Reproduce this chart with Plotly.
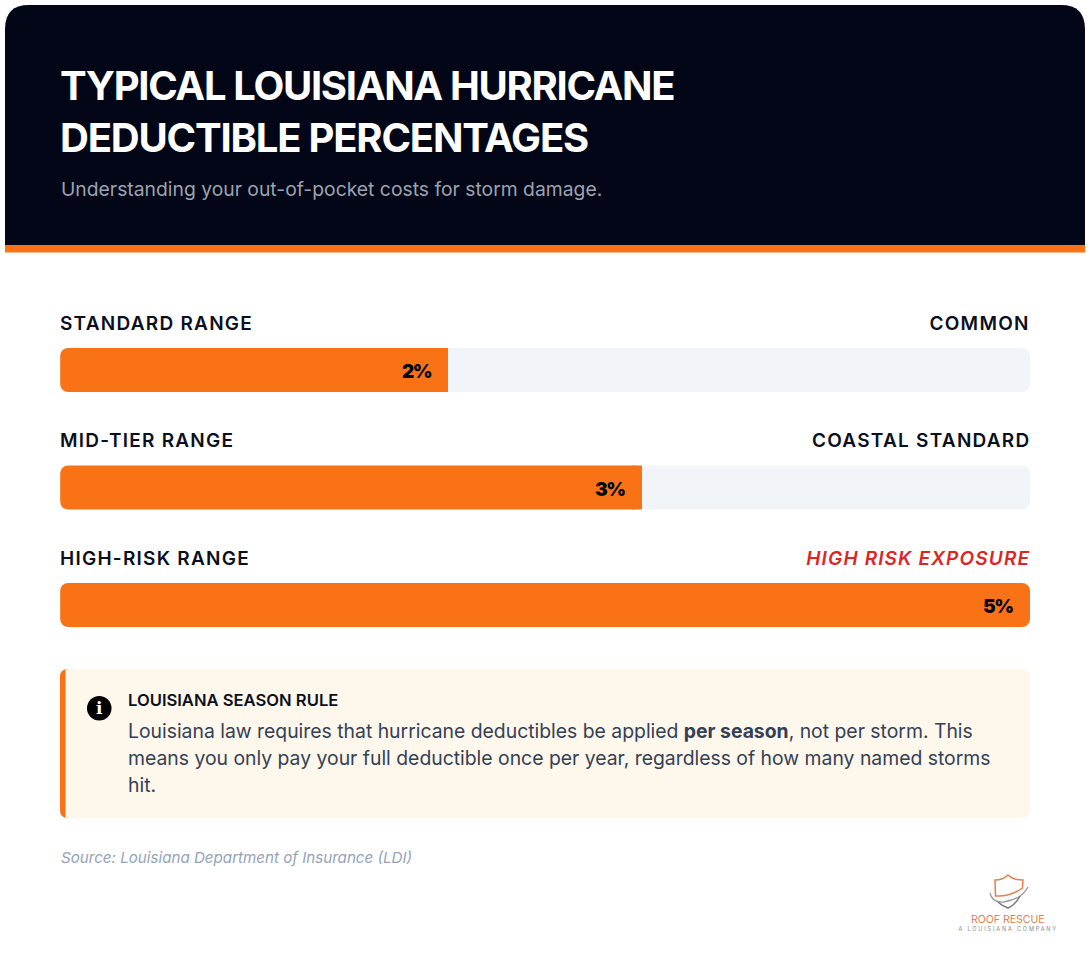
import plotly.graph_objects as go

W, H = 1090, 956
categories = ["STANDARD RANGE", "MID-TIER RANGE", "HIGH-RISK RANGE"]
right_labels = ["COMMON", "COASTAL STANDARD", "HIGH RISK EXPOSURE"]
values = [2, 3, 5]
value_labels = ["2%", "3%", "5%"]
axis_max = 5
title_lines = ["TYPICAL LOUISIANA HURRICANE", "DEDUCTIBLE PERCENTAGES"]
subtitle = "Understanding your out-of-pocket costs for storm damage."
note_title = "LOUISIANA SEASON RULE"
note_lines = [
    "Louisiana law requires that hurricane deductibles be applied <b>per season</b>, not per storm. This",
    "means you only pay your full deductible once per year, regardless of how many named storms",
    "hit.",
]
source = "Source: Louisiana Department of Insurance (LDI)"

ORANGE, NAVY, TRACK, CREAM = "#f97316", "#020617", "#f1f5f9", "#fef7ec"
FONT = "Inter"


def px(x):
    return x / W


def py(y):
    return 1 - y / H


def path(d, fill, line=None, lw=0, layer="below"):
    # d: SVG path in page pixels, converted to paper fractions
    out, toks = [], d.split()
    for t in toks:
        if t[0] in "MLQC":
            xy = t[1:].split(",")
            out.append(f"{t[0]}{px(float(xy[0])):.5f},{py(float(xy[1])):.5f}")
        elif "," in t:
            xy = t.split(",")
            out.append(f"{px(float(xy[0])):.5f},{py(float(xy[1])):.5f}")
        else:
            out.append(t)
    return dict(type="path", xref="paper", yref="paper", path=" ".join(out), fillcolor=fill,
                line=dict(color=line or "rgba(0,0,0,0)", width=lw), layer=layer)


fig = go.Figure()
bar_w = 44 / 117.5
n = len(categories)
eps = 0.001  # a non-zero base makes plotly round both ends of a bar
tip = 0.05   # square right end of the partial fills


def bar(y, x, base, color, radius, hover="skip"):
    fig.add_bar(y=y, x=x, base=base, orientation="h", width=bar_w, hoverinfo=hover,
                marker=dict(color=color, cornerradius=radius, line_width=0), showlegend=False)


bar(categories, [axis_max - eps] * n, [eps] * n, TRACK, 8)
bar(categories, [v - eps for v in values], [eps] * n, ORANGE, 8, "y+x")
partial = [(c, v) for c, v in zip(categories, values) if v < axis_max]
bar([c for c, _ in partial], [tip] * len(partial), [v - tip for _, v in partial], ORANGE, 0)

shapes = [
    path("M5,245 L5,29 Q5,5 29,5 L1061,5 Q1085,5 1085,29 L1085,245 Z", NAVY),
    path("M5,245 L1085,245 L1085,252.5 L5,252.5 Z", ORANGE),
    path("M68,669 L1022,669 Q1030,669 1030,677 L1030,810 Q1030,818 1022,818 L68,818 Q60,818 60,810 L60,677 Q60,669 68,669 Z", CREAM),
    path("M68,669 Q60,669 60,677 L60,810 Q60,818 68,818 L65.5,818 L65.5,669 Z", ORANGE),
    dict(type="circle", xref="paper", yref="paper", x0=px(87), x1=px(111.5), y0=py(720.5), y1=py(696),
         fillcolor="#000000", line_width=0, layer="below"),
    # logo
    path("M995,880 Q1003,880 1008,875 Q1013,880 1023,880 L1022.5,888 Q1010,897 995.5,896 Z", "rgba(0,0,0,0)", "#e2814f", 1.5),
    path("M990,893 Q992,903 1004,902 Q1022,899 1028,887", "rgba(0,0,0,0)", "#9a9a9a", 1.3),
    path("M998,902 Q1002,906 1008,908 Q1015,905 1020,896", "rgba(0,0,0,0)", "#777777", 1.5),
]

anns = []


def T(x, y, text, size, color, anchor="left", weight=400, style="normal", family=FONT):
    anns.append(dict(xref="paper", yref="paper", x=px(x), y=py(y), text=text, showarrow=False,
                     xanchor=anchor, yanchor="middle", borderpad=0, borderwidth=0,
                     font=dict(family=family, size=size, color=color, weight=weight, style=style)))


T(60, 85.5, title_lines[0], 40, "#ffffff", weight=750)
T(60, 137.5, title_lines[1], 40, "#ffffff", weight=750)
T(60.5, 189, subtitle, 19.32, "#9ca3af")

for i, (c, r) in enumerate(zip(categories, right_labels)):
    yc = 323.5 + i * 117.5
    T(60, yc, c, 19, "#0b1020", weight=600)
    red = i == len(categories) - 1
    T(1031 if red else 1030, yc, r, 19, "#dc2626" if red else "#0b1020", anchor="right", weight=600,
      style="italic" if red else "normal")

for c, v, lab in zip(categories, values, value_labels):
    anns.append(dict(xref="x", yref="y", x=v, y=c, text=lab, showarrow=False, xanchor="right", yanchor="middle",
                     xshift=-15.5, yshift=-1.5, font=dict(family=FONT, size=19, color="#020617", weight=900)))

T(99.2, 708, "i", 17, "#ffffff", anchor="center", weight=900, family="DejaVu Serif")
T(128, 700, note_title, 16.6, "#0b1020", weight=600)
for i, line in enumerate(note_lines):
    T(128, 731 + i * 27, line, 19.37, "#334155")
T(60.5, 857, source, 15.15, "#94a3b8", style="italic")
T(1008, 919, "ROOF RESCUE", 10.5, "#e2814f", anchor="center")
T(1008, 929, "A LOUISIANA COMPANY", 5.5, "#888888", anchor="center")

fig.update_layout(
    width=W, height=H, margin=dict(l=0, r=0, t=0, b=0), paper_bgcolor="#ffffff", plot_bgcolor="rgba(0,0,0,0)",
    barmode="overlay", shapes=shapes, annotations=anns, showlegend=False,
    xaxis=dict(domain=[px(60), px(1030)], range=[0, axis_max], visible=False, fixedrange=True),
    yaxis=dict(domain=[py(663.75), py(311.25)], range=[2.5, -0.5], type="category",
               categoryorder="array", categoryarray=categories, visible=False, fixedrange=True),
)

post = """
document.body.style.margin='0';
document.documentElement.style.overflow='hidden';
var LS={'TYPICAL':[-1.32,'l'],'DEDUCTIBLE PER':[-1.2,'l'],'STANDARD':[1.25,'l'],'MID-TIER':[1.25,'l'],'HIGH-RISK':[1.25,'l'],
'COMMON':[1.25,'r'],'COASTAL':[1.25,'r'],'HIGH RISK':[1.15,'r'],'A LOUISIANA':[1.85,'c'],
'2%':[-1.5,'r'],'3%':[-1.5,'r'],'5%':[-1.5,'r']};
document.querySelectorAll('.annotation-text').forEach(function(el){
  var t=el.textContent;
  for(var k in LS){ if(t.indexOf(k)===0){
    var b=el.getComputedTextLength(); el.style.letterSpacing=LS[k][0]+'px';
    var a=el.getComputedTextLength(); var d=(a-b)/2;
    var x=parseFloat(el.getAttribute('x'))||0;
    if(LS[k][1]==='l') x+=d; if(LS[k][1]==='r') x-=d;
    el.setAttribute('x',x);
  }}
});
"""
fig.write_html("out.html", config={"displayModeBar": False}, post_script=post)
